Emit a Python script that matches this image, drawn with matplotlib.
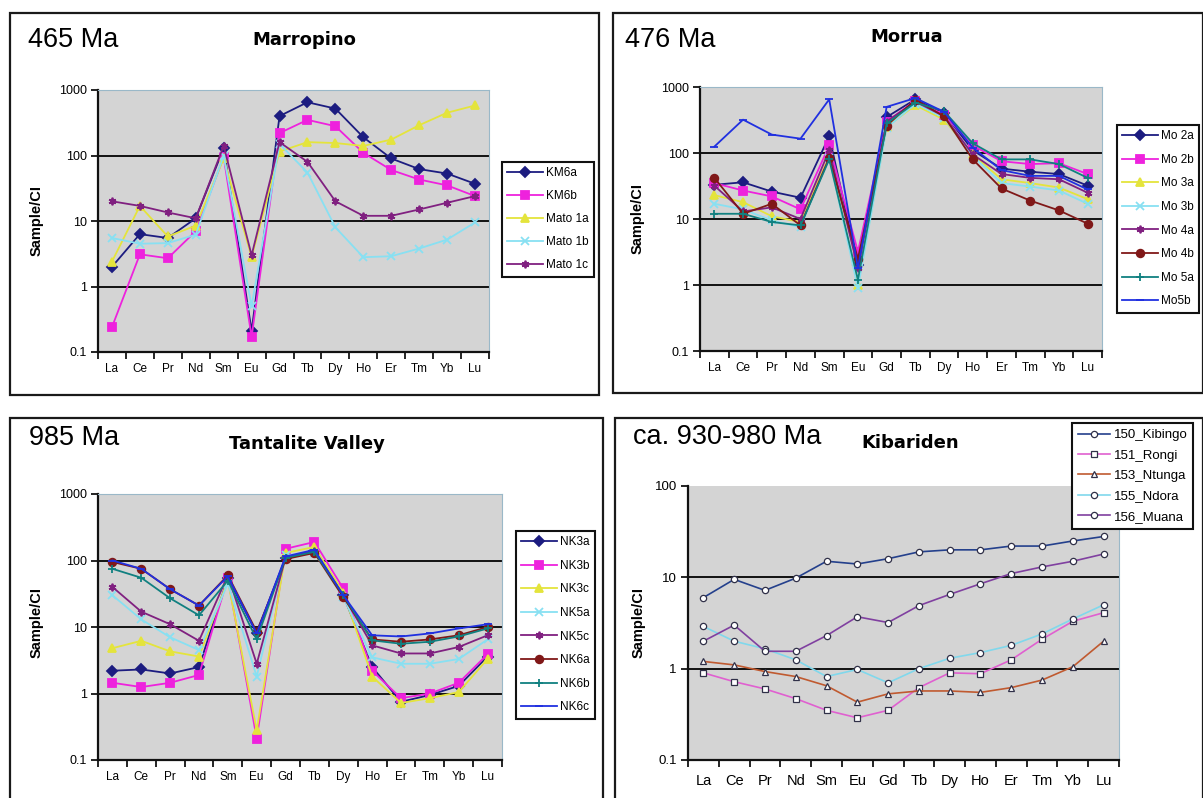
import numpy as np
import matplotlib.pyplot as plt
from matplotlib.patches import Rectangle
from matplotlib.ticker import NullLocator

plt.rcParams['font.family'] = ['Liberation Sans', 'DejaVu Sans']

W, H = 1203, 798

ree = ['La', 'Ce', 'Pr', 'Nd', 'Sm', 'Eu', 'Gd', 'Tb', 'Dy', 'Ho', 'Er', 'Tm', 'Yb', 'Lu']

# Marropino (465 Ma)
km6a = [2.0, 6.3, 5.5, 11, 130, 0.21, 400, 650, 520, 190, 90, 62, 53, 37]
km6b = [0.24, 3.1, 2.7, 7.0, 95, 0.17, 220, 350, 280, 110, 60, 43, 35, 24]
mato1a = [2.4, 17, 5.8, 8.5, 90, 2.8, 115, 160, 155, 140, 175, 290, 450, 580]
mato1b = [5.5, 4.5, 4.6, 6.2, 100, 0.5, 150, 55, 8, 2.8, 2.9, 3.8, 5.2, 9.5]
mato1c = [20, 17, 13.5, 11, 140, 3.0, 160, 80, 20, 12, 12, 15, 19, 24]
marropino_names = ['KM6a', 'KM6b', 'Mato 1a', 'Mato 1b', 'Mato 1c']

# Morrua (476 Ma)
mo2a = [33, 36, 26, 21, 180, 2.0, 350, 650, 400, 110, 58, 52, 48, 32]
mo2b = [35, 27, 22, 14, 130, 3.2, 300, 620, 380, 130, 75, 68, 70, 48]
mo3a = [23, 18, 11, 9, 90, 1.0, 250, 530, 320, 95, 40, 35, 30, 20]
mo3b = [17, 14, 9.5, 7.5, 85, 0.9, 240, 560, 340, 90, 35, 31, 27, 17]
mo4a = [32, 13, 15, 10, 110, 1.8, 300, 600, 360, 95, 48, 42, 40, 25]
mo4b = [42, 12, 17, 8, 85, 2.5, 260, 640, 360, 80, 29, 19, 13.5, 8.5]
mo5a = [12, 12, 9, 8, 80, 1.2, 280, 580, 430, 140, 80, 80, 68, 42]
mo5b = [125, 320, 190, 165, 650, 1.8, 500, 680, 420, 120, 55, 45, 45, 28]
morrua_names = ['Mo 2a', 'Mo 2b', 'Mo 3a', 'Mo 3b', 'Mo 4a', 'Mo 4b', 'Mo 5a', 'Mo5b']

# Tantalite Valley (985 Ma)
nk3a = [2.2, 2.3, 2.0, 2.5, 55, 8.0, 110, 140, 30, 2.5, 0.75, 0.95, 1.3, 3.6]
nk3b = [1.45, 1.25, 1.45, 1.9, 55, 0.21, 150, 190, 38, 2.2, 0.85, 1.0, 1.45, 3.9]
nk3c = [4.8, 6.2, 4.3, 3.6, 50, 0.28, 130, 160, 33, 1.8, 0.72, 0.85, 1.05, 3.3]
nk5a = [30, 13, 7, 4.5, 45, 1.8, 120, 130, 28, 3.5, 2.8, 2.8, 3.3, 6.5]
nk5c = [40, 17, 11, 6.2, 60, 2.8, 110, 140, 30, 5.3, 4.0, 4.0, 5.0, 7.5]
nk6a = [95, 75, 37, 21, 60, 8.5, 105, 130, 28, 6.5, 6.0, 6.5, 7.5, 10]
nk6b = [75, 55, 27, 15, 50, 6.5, 110, 135, 30, 6.3, 5.6, 6.0, 7.2, 9.5]
nk6c = [100, 75, 37, 21, 58, 8.0, 115, 145, 30, 7.5, 7.2, 8.0, 9.5, 11]
tantalite_names = ['NK3a', 'NK3b', 'NK3c', 'NK5a', 'NK5c', 'NK6a', 'NK6b', 'NK6c']

# Kibariden (ca. 930-980 Ma)
kibingo = [6.0, 9.5, 7.2, 9.8, 15, 14, 16, 19, 20, 20, 22, 22, 25, 28]
rongi = [0.9, 0.72, 0.6, 0.47, 0.35, 0.29, 0.35, 0.62, 0.9, 0.88, 1.25, 2.1, 3.3, 4.1]
ntunga = [1.2, 1.1, 0.93, 0.82, 0.65, 0.43, 0.53, 0.57, 0.57, 0.55, 0.62, 0.75, 1.05, 2.0]
ndora = [2.9, 2.0, 1.65, 1.25, 0.82, 0.98, 0.7, 1.0, 1.3, 1.5, 1.8, 2.4, 3.5, 5.0]
muana = [2.0, 3.0, 1.55, 1.55, 2.3, 3.7, 3.2, 4.9, 6.5, 8.5, 11, 13, 15, 18]
kibariden_names = ['150_Kibingo', '151_Rongi', '153_Ntunga', '155_Ndora', '156_Muana']

# excel-like series styles
excel_colors = ['#1c1c80', '#ee22dd', '#e4e43c', '#88e0f2', '#802080', '#801818', '#108080', '#2030e0']
excel_markers = ['D', 's', '^', 'x', (6, 2, 0), 'o', '+', '_']
kib_colors = ['#24408c', '#e060d0', '#c05a30', '#80d8ec', '#8040a0']
kib_markers = ['o', 's', '^', 'o', 'o']

fig = plt.figure(figsize=(W / 100, H / 100), dpi=100)


def px_box(l, t, r, b):
    return [l / W, 1 - b / H, (r - l) / W, (b - t) / H]


def frame(l, t, r, b):
    fig.patches.append(Rectangle((l / W, 1 - b / H), (r - l) / W, (b - t) / H,
                                 transform=fig.transFigure, fill=False,
                                 ec='#1a1a1a', lw=1.6, zorder=0))


def ree_axes(rect, ymin, ymax, xfont=8.5, xpad=8, yfont=9):
    ax = fig.add_axes(px_box(*rect))
    ax.set_facecolor('#d4d4d4')
    ax.set_yscale('log')
    ax.set_ylim(ymin, ymax)
    ax.set_xlim(-0.5, 13.5)
    decades = 10.0 ** np.arange(round(np.log10(ymin)), round(np.log10(ymax)) + 1)
    ax.set_yticks(decades)
    ax.set_yticklabels([f'{v:g}' for v in decades], fontsize=yfont)
    ax.yaxis.set_minor_locator(NullLocator())
    for v in decades[1:-1]:
        ax.axhline(v, color='#111111', lw=1.4, zorder=1)
    ax.set_xticks(range(len(ree)))
    ax.set_xticklabels(ree, fontsize=xfont)
    ax.set_xticks(np.arange(-0.5, len(ree), 1), minor=True)
    ax.tick_params(axis='x', which='major', length=0, pad=xpad)
    ax.tick_params(axis='x', which='minor', length=5, width=1.2, direction='out')
    ax.tick_params(axis='y', which='major', length=5, width=1.2, direction='out', pad=3)
    for s in ['left', 'bottom']:
        ax.spines[s].set_linewidth(1.6)
        ax.spines[s].set_color('#111111')
    for s in ['top', 'right']:
        ax.spines[s].set_linewidth(0.8)
        ax.spines[s].set_color('#9ab8c8')
    return ax


def excel_lines(ax, series, names):
    for i, (y, name) in enumerate(zip(series, names)):
        m = excel_markers[i]
        ax.plot(range(len(ree)), y, color=excel_colors[i], lw=1.3, marker=m,
                ms=5.5 if m not in ('x', '+', '_') else 6, mew=1.3,
                label=name, zorder=3)


def add_legend(ax, x, y, fs=8.5, spacing=0.93, hl=3.0):
    leg = ax.legend(loc='upper left', bbox_to_anchor=(x / W, 1 - y / H),
                    bbox_transform=fig.transFigure, fancybox=False,
                    edgecolor='#111111', framealpha=1, fontsize=fs,
                    labelspacing=spacing, handlelength=hl, handletextpad=0.3,
                    borderpad=0.45, borderaxespad=0)
    leg.get_frame().set_linewidth(1.5)
    return leg


def headings(x_age, y_age, age, x_title, y_title, title):
    fig.text(x_age / W, 1 - y_age / H, age, fontsize=19.5, ha='left', va='center')
    fig.text(x_title / W, 1 - y_title / H, title, fontsize=13, fontweight='bold',
             family='DejaVu Sans', ha='center', va='center')


def ylabel(x, y):
    fig.text(x / W, 1 - y / H, 'Sample/CI', fontsize=10.5, fontweight='bold',
             rotation=90, ha='center', va='center')


# panel frames
frame(10, 13, 599, 395)
frame(613, 13, 1203, 393)
frame(10, 418, 603, 812)
frame(615, 418, 1203, 812)

# Marropino
ax1 = ree_axes((98, 90, 489, 352), 0.1, 1000)
excel_lines(ax1, [km6a, km6b, mato1a, mato1b, mato1c], marropino_names)
add_legend(ax1, 502, 162)
headings(28, 40, '465 Ma', 304, 40, 'Marropino')
ylabel(37, 221)

# Morrua
ax2 = ree_axes((700, 87, 1102, 351), 0.1, 1000)
excel_lines(ax2, [mo2a, mo2b, mo3a, mo3b, mo4a, mo4b, mo5a, mo5b], morrua_names)
add_legend(ax2, 1117, 125, spacing=0.98)
headings(625, 40, '476 Ma', 907, 37, 'Morrua')
ylabel(638, 219)

# Tantalite Valley
ax3 = ree_axes((98, 494, 502, 760), 0.1, 1000)
excel_lines(ax3, [nk3a, nk3b, nk3c, nk5a, nk5c, nk6a, nk6b, nk6c], tantalite_names)
add_legend(ax3, 516, 531, spacing=0.98)
headings(29, 438, '985 Ma', 307, 444, 'Tantalite Valley')
ylabel(37, 622)

# Kibariden
ax4 = ree_axes((688, 486, 1119, 760), 0.1, 100, xfont=10.5, xpad=10, yfont=9.5)
ax4.spines['top'].set_visible(False)
for i, (y, name) in enumerate(zip([kibingo, rongi, ntunga, ndora, muana], kibariden_names)):
    ax4.plot(range(len(ree)), y, color=kib_colors[i], lw=1.2, marker=kib_markers[i],
             ms=4.5, mfc='white', mec='#303048', mew=0.9, label=name, zorder=3)
add_legend(ax4, 1072, 423, fs=9.5, spacing=0.62, hl=2.4)
headings(633, 437, 'ca. 930-980 Ma', 910, 443, 'Kibariden')
ylabel(639, 622)

fig.savefig('out.png', dpi=100)
